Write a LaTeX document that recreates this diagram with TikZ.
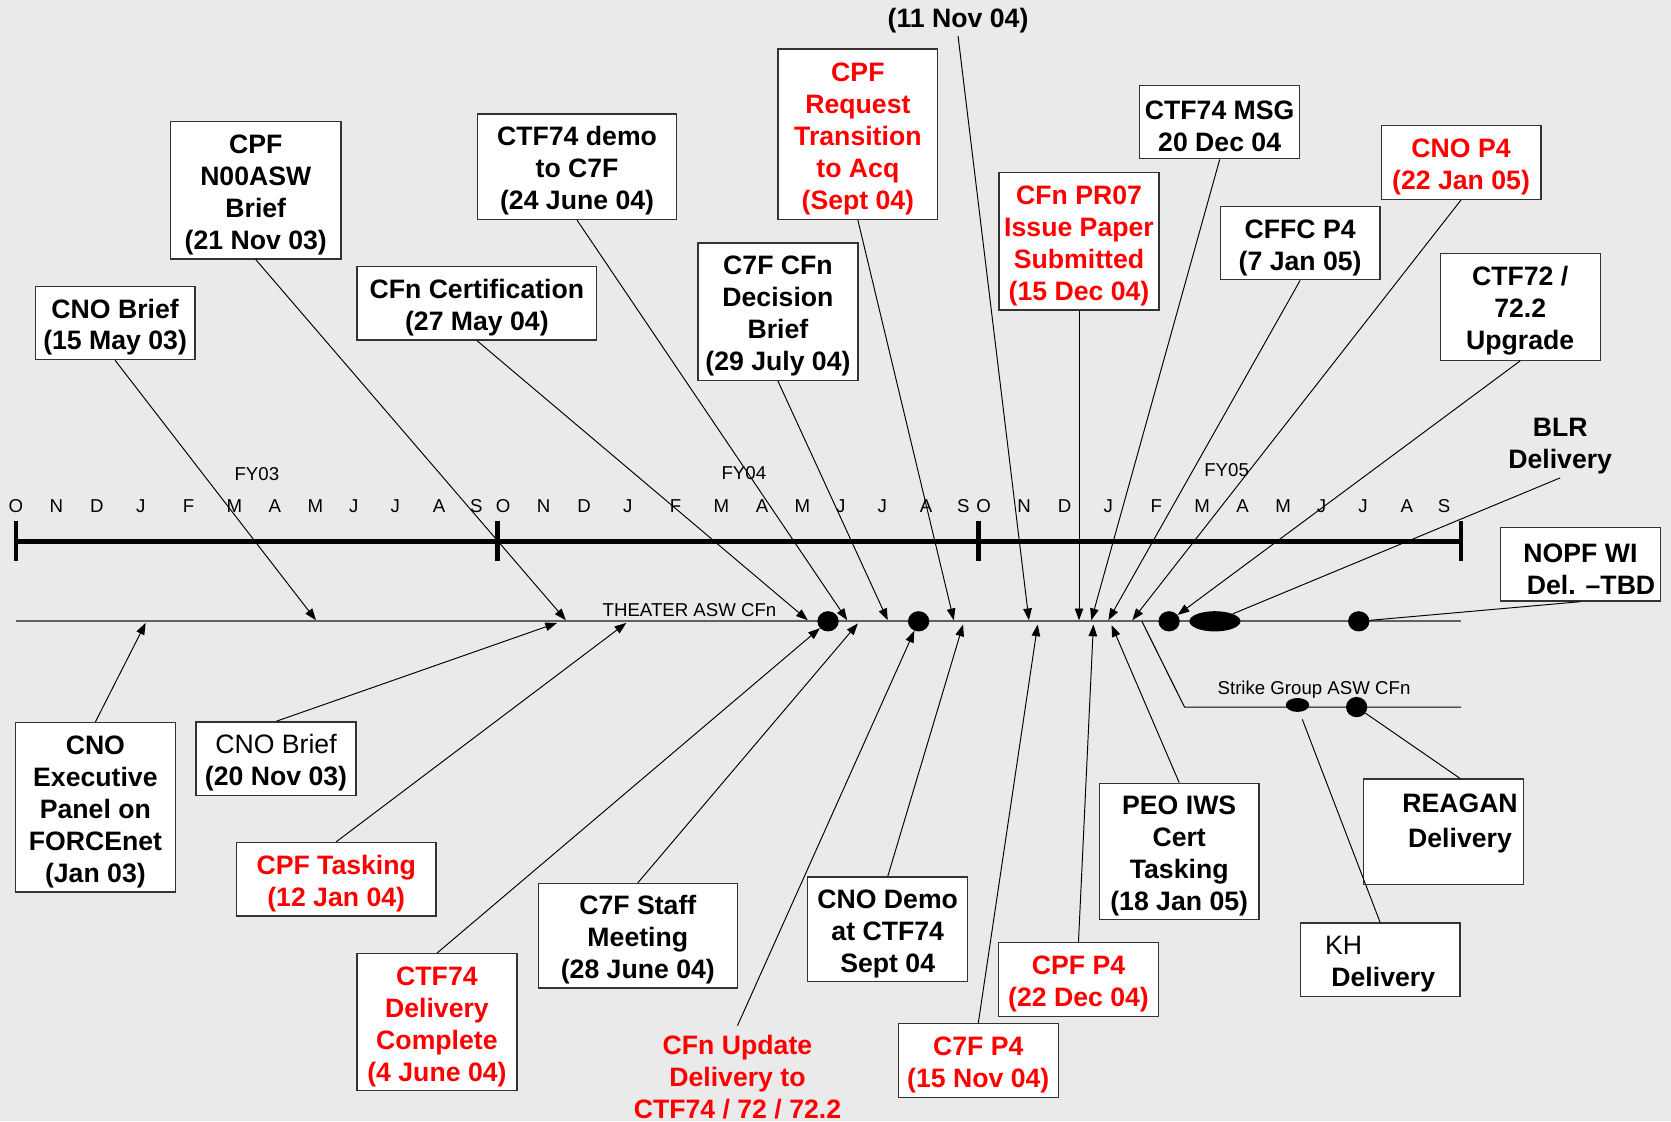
\documentclass[tikz,border=0pt]{standalone}
\usepackage{fontspec}
\setmainfont{Liberation Sans}
\usetikzlibrary{arrows.meta, shapes.geometric}

\definecolor{bggray}{RGB}{234,234,234}
\definecolor{tlgray}{RGB}{96,96,96}

\newcommand{\evfont}{\fontsize{25}{30}\selectfont\bfseries}
\newcommand{\smfont}{\fontsize{17.5}{21}\selectfont}
\newcommand{\tl}{\rule{0pt}{26pt}}

\tikzset{
	evbox/.style={draw=black!80, line width=1.2pt, fill=white, font=\evfont, align=center, inner sep=2pt, minimum width=150pt, minimum height=#1},
	evbox/.default=69pt,
	evtext/.style={font=\evfont, align=center, inner sep=3pt},
	cfdot/.style={ellipse, fill=black, inner sep=0pt, minimum width=#1, minimum height=19pt},
	cfdot/.default=20pt,
	link/.style={line width=0.9pt},
}

\begin{document}
\begin{tikzpicture}[x=1pt, y=-1pt, >={Triangle[length=11pt,width=8pt]}]
		\fill[bggray] (0,0) rectangle (1568,1052);
		\useasboundingbox (0,0) rectangle (1568,1052);

		% fiscal years
		\draw[line width=4.5pt] (15,508) -- (1371,508);
		\foreach \x in {15,467,918,1371}
			\draw[line width=4.5pt] (\x,489) -- (\x,526);
		\foreach \fy/\xo in {03/15, 04/472, 05/923} {
			\foreach \m/\dx [count=\i] in {O/0,N/38,D/76,J/117,F/162,M/205,A/243,M/281,J/317,J/356,A/397,S/432}
				\node (m\fy-\i) at (\xo+\dx, 475) [font=\smfont, inner sep=0pt] {\m};
		}
		\node (fy03) at (241,445) [font=\smfont] {FY03};
		\node (fy04) at (698,443.5) [font=\smfont] {FY04};
		\node (fy05) at (1151,441) [font=\smfont] {FY05};

		% CFn lines
		\draw[tlgray, line width=1.6pt] (15,583) -- (1371,583);
		\node (theater) at (647,572) [font=\smfont] {THEATER ASW CFn};
		\draw[line width=1pt] (1071.5,583) -- (1111.5,663.5) -- (1371,663.5);
		\node (strike) at (1233,647.5) [font=\smfont] {Strike Group ASW CFn};

		\node (fdot1) at (777,583) [cfdot] {};
		\node (fdot2) at (862,583) [cfdot] {};
		\node (fdot3) at (1097,583) [cfdot] {};
		\node (fdot4) at (1140,583) [cfdot=48pt] {};
		\node (fdot5) at (1275,583) [cfdot] {};
		\node (sdot1) at (1217.5,661.5) [cfdot=22pt, minimum height=13pt] {};
		\node (sdot2) at (1273,663.5) [cfdot] {};

		% events above
		\node (cnob15) at (108,303) [evbox] {\tl CNO Brief\\(15 May 03)};
		\node (cpfn00) at (240,178.5) [evbox=129pt, minimum width=160pt] {\tl CPF\\N00ASW\\Brief\\(21 Nov 03)};
		\node (cfncert) at (447.5,284.5) [evbox, minimum width=225pt] {\tl CFn Certification\\(27 May 04)};
		\node (ctfdemo) at (541.5,156.5) [evbox=99pt, minimum width=187pt] {\tl CTF74 demo\\to C7F\\(24 June 04)};
		\node (c7fdec) at (730,292.5) [evbox=129pt] {\tl C7F CFn\\Decision\\Brief\\(29 July 04)};
		\node (cpfreq) at (805,126) [evbox=160pt, text=red] {\tl CPF\\Request\\Transition\\to Acq\\(Sept 04)};
		\node (nov11) at (899,19) [evtext] {(11 Nov 04)};
		\node (pr07) at (1012.5,226.5) [evbox=129pt, text=red] {\tl CFn PR07\\Issue Paper\\Submitted\\(15 Dec 04)};
		\node (ctfmsg) at (1144.5,114.5) [evbox] {\tl CTF74 MSG\\20 Dec 04};
		\node (cffc) at (1220,228) [evbox] {\tl CFFC P4\\(7 Jan 05)};
		\node (cnop4) at (1371,152.5) [evbox, text=red] {\tl CNO P4\\(22 Jan 05)};
		\node (ctfup) at (1426.5,288) [evbox=100pt] {\tl CTF72 /\\72.2\\Upgrade};
		\node (blr) at (1464,419) [evtext] {BLR\\Delivery};
		\node (nopf) at (1483,529.5) [evbox] {\tl NOPF WI\\\hspace*{20pt}Del. --TBD};

		% events below
		\node (cnoexec) at (89.5,757.5) [evbox=159pt] {\tl CNO\\Executive\\Panel on\\FORCEnet\\(Jan 03)};
		\node (cnob20) at (259,712) [evbox] {\tl{\mdseries CNO Brief}\\(20 Nov 03)};
		\node (cpftask) at (315.5,825) [evbox, minimum width=187pt, text=red] {\tl CPF Tasking\\(12 Jan 04)};
		\node (ctfdel) at (410,959) [evbox=128pt, text=red] {\tl CTF74\\Delivery\\Complete\\(4 June 04)};
		\node (c7fstaff) at (598.5,878) [evbox=98pt, minimum width=187pt] {\tl C7F Staff\\Meeting\\(28 June 04)};
		\node (cfnupd) at (692,1011) [evtext, text=red] {CFn Update\\Delivery to\\CTF74 / 72 / 72.2};
		\node (cnodemo) at (833,872) [evbox=98pt] {\tl CNO Demo\\at CTF74\\Sept 04};
		\node (c7fp4) at (918,995) [evbox, text=red] {\tl C7F P4\\(15 Nov 04)};
		\node (cpfp4) at (1012,919) [evbox, text=red] {\tl CPF P4\\(22 Dec 04)};
		\node (peo) at (1106.5,799) [evbox=128pt] {\tl PEO IWS\\Cert\\Tasking\\(18 Jan 05)};
		\node (reagan) at (1354.5,780.5) [evbox=99pt] {\tl\hspace*{31pt}REAGAN\\[3pt]\hspace*{31pt}Delivery\\\mbox{}};
		\node (kh) at (1295,900.5) [evbox, align=left] {\tl{\mdseries KH}\\\hspace*{6pt}Delivery};

		% arrow points on the THEATER ASW CFn line
		\coordinate (a-cnob15) at (296.5,582);
		\coordinate (a-cpfn00) at (531,582);
		\coordinate (a-cfncert) at (758,582);
		\coordinate (a-ctfdemo) at (795,582);
		\coordinate (a-c7fdec) at (833,582);
		\coordinate (a-cpfreq) at (895,582);
		\coordinate (a-nov11) at (965.5,582);
		\coordinate (a-pr07) at (1012.5,582);
		\coordinate (a-ctfmsg) at (1024,582);
		\coordinate (a-cffc) at (1040,582);
		\coordinate (a-cnop4) at (1062.5,582);
		\coordinate (a-cnoexec) at (136.7,584.5);
		\coordinate (a-cnob20) at (522.7,584.5);
		\coordinate (a-cpftask) at (587.7,584.5);
		\coordinate (a-c7fstaff) at (805,585);
		\coordinate (a-cnodemo) at (903.7,586);
		\coordinate (a-c7fp4) at (973.7,586);
		\coordinate (a-cpfp4) at (1026,586);
		\coordinate (a-peo) at (1043,586.5);
		\coordinate (kh-top) at (1222,675);

		\draw[link, ->] (cnob15.south) -- (a-cnob15);
		\draw[link, ->] (cpfn00.south) -- (a-cpfn00);
		\draw[link, ->] (cfncert.south) -- (a-cfncert);
		\draw[link, ->] (ctfdemo.south) -- (a-ctfdemo);
		\draw[link, ->] (c7fdec.south) -- (a-c7fdec);
		\draw[link, ->] (cpfreq.south) -- (a-cpfreq);
		\draw[link, ->] (nov11.south) -- (a-nov11);
		\draw[link, ->] (pr07.south) -- (a-pr07);
		\draw[link, ->] (ctfmsg.south) -- (a-ctfmsg);
		\draw[link, ->] (cffc.south) -- (a-cffc);
		\draw[link, ->] (cnop4.south) -- (a-cnop4);
		\draw[link, ->] (ctfup.south) -- (fdot3);
		\draw[link] (blr.south) -- (fdot4);
		\draw[link] (nopf.south) -- (fdot5);

		\draw[link, ->] (cnoexec.north) -- (a-cnoexec);
		\draw[link, ->] (cnob20.north) -- (a-cnob20);
		\draw[link, ->] (cpftask.north) -- (a-cpftask);
		\draw[link, ->] (ctfdel.north) -- (fdot1);
		\draw[link, ->] (c7fstaff.north) -- (a-c7fstaff);
		\draw[link, ->] ([yshift=6pt]cfnupd.north) -- (fdot2);
		\draw[link, ->] (cnodemo.north) -- (a-cnodemo);
		\draw[link, ->] (c7fp4.north) -- (a-c7fp4);
		\draw[link, ->] (cpfp4.north) -- (a-cpfp4);
		\draw[link, ->] (peo.north) -- (a-peo);
		\draw[link] (sdot2) -- ([xshift=15.5pt]reagan.north);
		\draw[link] (kh-top) -- (kh.north);
	\end{tikzpicture}
\end{document}
